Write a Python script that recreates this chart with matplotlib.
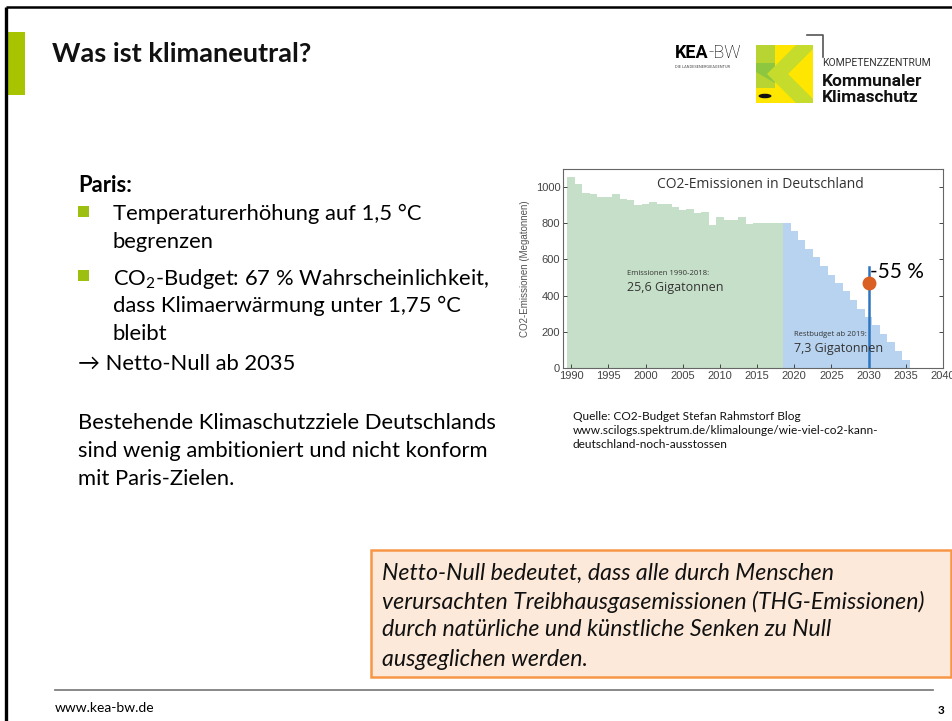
import matplotlib.pyplot as plt
from matplotlib.patches import Rectangle, Polygon, Ellipse

plt.rcParams['font.family'] = ['Lato', 'DejaVu Sans']
plt.rcParams['mathtext.fontset'] = 'custom'
plt.rcParams['mathtext.rm'] = 'Lato'

# CO2 emissions Germany (Mt)
years_hist = list(range(1990, 2019))
emis_hist = [1055, 1018, 970, 961, 945, 943, 963, 934, 926, 899,
             906, 919, 906, 906, 891, 871, 880, 856, 860, 792,
             834, 816, 820, 834, 797, 801, 803, 799, 799]
years_budget = list(range(2019, 2036))
emis_budget = [799, 755, 705, 657, 611, 565, 516, 470, 424, 374,
               328, 282, 236, 190, 142, 92, 46]
target_year = 2030
target_value = 470
target_line_top = 558
x_ticks = [1990, 1995, 2000, 2005, 2010, 2015, 2020, 2025, 2030, 2035, 2040]
y_ticks = [0, 200, 400, 600, 800, 1000]

bullets = [
    ["Temperaturerhöhung auf 1,5 °C", "begrenzen"],
    ["CO$_{2}$-Budget: 67 % Wahrscheinlichkeit,", "dass Klimaerwärmung unter 1,75 °C", "bleibt"],
]
box_lines = [
    "Netto-Null bedeutet, dass alle durch Menschen",
    "verursachten Treibhausgasemissionen (THG-Emissionen)",
    "durch natürliche und künstliche Senken zu Null",
    "ausgeglichen werden.",
]
source_lines = [
    "Quelle: CO2-Budget Stefan Rahmstorf Blog",
    "www.scilogs.spektrum.de/klimalounge/wie-viel-co2-kann-",
    "deutschland-noch-ausstossen",
]

W, H = 953, 721
fig = plt.figure(figsize=(W / 100, H / 100), dpi=100)
bg = fig.add_axes([0, 0, 1, 1])
bg.set_xlim(0, W)
bg.set_ylim(H, 0)
bg.axis('off')

# slide frame + accent
bg.plot([6.5, 6.5], [7, H], color='black', lw=2.4, solid_capstyle='butt')
bg.plot([6, W], [7, 7], color='black', lw=1.8, solid_capstyle='butt')
bg.add_patch(Rectangle((8, 32), 17, 63, color='#a8c400', lw=0))

bg.text(52, 52, "Was ist klimaneutral?", fontsize=19.5, fontweight='bold',
        va='center_baseline', ha='left', color='#111111')

# logo (KEA-BW + Kompetenzzentrum)
t = bg.text(675, 58, "KEA", fontsize=13, fontweight='bold', family='Roboto',
            va='baseline', ha='left')
fig.canvas.draw()
bb = t.get_window_extent().transformed(bg.transData.inverted())
bg.text(bb.x1, 58, "-BW", fontsize=13, fontweight='light', family='Roboto',
        va='baseline', ha='left')
bg.text(675, 67, "DIE LANDESENERGIEAGENTUR", fontsize=2.8, family='Roboto',
        va='center', ha='left', color='#444444')
bg.add_patch(Rectangle((756, 45), 57, 58, color='#ffe600', lw=0))
bg.add_patch(Rectangle((756, 45), 19, 43, color='#b8d432', lw=0))
bg.add_patch(Polygon([(756, 63), (775, 63), (775, 83), (756, 72)], color='#8dc63f', lw=0))
bg.add_patch(Polygon([(796, 45), (813, 45), (813, 49), (788, 74), (813, 99), (813, 103),
                      (796, 103), (767, 74)], color='#c5dc2c', lw=0))
bg.add_patch(Ellipse((765, 96), 13, 4.5, color='#111111', lw=0))
bg.plot([807, 823, 823], [35, 35, 57], color='#555555', lw=1.2)
bg.text(822, 63, "KOMPETENZZENTRUM", fontsize=7.5, family='Roboto', va='center',
        ha='left', color='#333333')
bg.text(822, 82, "Kommunaler", fontsize=12.5, fontweight='bold', family='Roboto',
        va='center', ha='left', color='#111111')
bg.text(822, 97, "Klimaschutz", fontsize=12.5, fontweight='bold', family='Roboto',
        va='center', ha='left', color='#111111')

# left text block
body = 15.8
bg.text(78, 183, "Paris:", fontsize=body, fontweight='bold', va='center_baseline')
line_y = [[212, 240], [276, 304, 332]]
for lines, ys in zip(bullets, line_y):
    bg.add_patch(Rectangle((78, ys[0] - 6), 11, 11, color='#9dbf0f', lw=0))
    for s, y in zip(lines, ys):
        bg.text(113, y, s, fontsize=body, va='center_baseline')
bg.text(78, 362, "→ Netto-Null ab 2035", fontsize=body, va='center_baseline')
for s, y in zip(["Bestehende Klimaschutzziele Deutschlands",
                 "sind wenig ambitioniert und nicht konform",
                 "mit Paris-Zielen."], [421, 449, 477]):
    bg.text(78, y, s, fontsize=body, va='center_baseline')

# source
for s, y in zip(source_lines, [416, 429, 443]):
    bg.text(573, y, s, fontsize=8.6, va='center_baseline', color='#111111')

# orange definition box
bg.add_patch(Rectangle((371, 550), 580, 127, facecolor='#fde9d9', edgecolor='#f79646', lw=1.8))
for s, y in zip(box_lines, [571, 600, 628, 657]):
    bg.text(382, y, s, fontsize=16.7, style='italic', va='center_baseline', color='#111111')

# footer
bg.plot([55, 933], [690, 690], color='#808080', lw=1.3)
bg.text(55, 707, "www.kea-bw.de", fontsize=10, va='center_baseline')
bg.text(938, 710, "3", fontsize=8.5, fontweight='bold', va='center_baseline')

# embedded chart
ax = fig.add_axes([563 / W, 1 - 368 / H, (943 - 563) / W, (368 - 169) / H])
ax.bar(years_hist, emis_hist, width=1.0, color='#c6dfc8', lw=0)
ax.bar(years_budget, emis_budget, width=1.0, color='#b7d3ef', lw=0)
ax.plot([target_year, target_year], [0, target_line_top], color='#2e75c0', lw=1.8)
ax.plot(target_year, target_value, 'o', color='#d95f23', ms=9)
ax.text(target_year + 0.2, 533, "-55 %", fontsize=15, va='center', ha='left', color='black')
ax.text(2015.4, 1013, "CO2-Emissionen in Deutschland", fontsize=10, family='Open Sans',
        ha='center', va='center', color='#333333')
ax.text(1997.5, 524, "Emissionen 1990-2018:", fontsize=5.5, family='Open Sans',
        ha='left', va='center', color='#333333')
ax.text(1997.5, 447, "25,6 Gigatonnen", fontsize=9, family='Open Sans',
        ha='left', va='center', color='#333333')
ax.text(2019.9, 183, "Restbudget ab 2019:", fontsize=5.5, family='Open Sans',
        ha='left', va='center', color='#333333')
ax.text(2019.9, 109, "7,3 Gigatonnen", fontsize=9, family='Open Sans',
        ha='left', va='center', color='#333333')
ax.set_xlim(1988.9, 2040)
ax.set_ylim(0, 1100)
ax.set_xticks(x_ticks)
ax.set_yticks(y_ticks)
ax.tick_params(direction='in', length=3, width=0.7, labelsize=8, colors='#444444',
               right=True, labelfontfamily='Liberation Sans', pad=2)
ax.set_ylabel("CO2-Emissionen (Megatonnen)", fontsize=7, family='Liberation Sans',
              color='#555555', labelpad=4)
for sp in ax.spines.values():
    sp.set_color('#666666')
    sp.set_linewidth(0.8)

fig.savefig('out.png', dpi=100)
